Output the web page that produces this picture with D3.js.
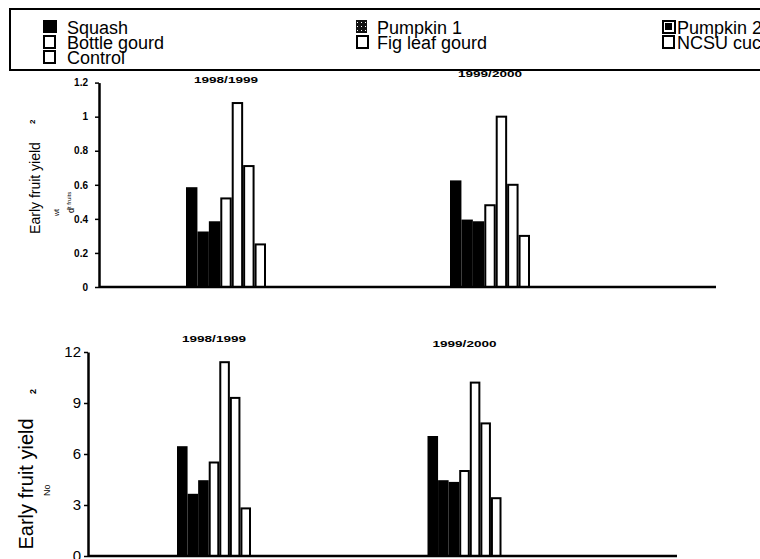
<!DOCTYPE html>
<html>
<head>
<meta charset="utf-8">
<script src="https://cdn.jsdelivr.net/npm/d3@7"></script>
<style>
  body { margin: 0; background: #fff; }
  svg { display: block; font-family: "Liberation Sans", Arial, sans-serif; }
</style>
</head>
<body>
<div class="chart"></div>
<script>
// data
const seasons = ['1998/1999', '1999/2000'];
const rootstocks = ['Squash', 'Pumpkin 1', 'Pumpkin 2', 'Bottle gourd', 'Fig leaf gourd', 'NCSU cucumber', 'Control'];
const darkRootstocks = ['Squash', 'Pumpkin 1', 'Pumpkin 2'];
const weightYield = [
    [0.58, 0.32, 0.38, 0.52, 1.08, 0.71, 0.25],
    [0.62, 0.39, 0.38, 0.48, 1.0, 0.60, 0.30]
];
const numberYield = [
    [6.4, 3.6, 4.4, 5.5, 11.4, 9.3, 2.8],
    [7.0, 4.4, 4.3, 5.0, 10.2, 7.8, 3.4]
];
const weightTicks = [0, 0.2, 0.4, 0.6, 0.8, 1, 1.2];
const numberTicks = [0, 3, 6, 9, 12];

const width = 760,
    height = 559;

const svg = d3.select('.chart')
    .append('svg')
    .attr('width', width)
    .attr('height', height);

// hatch for the Pumpkin 1 swatch
const defs = svg.append('defs');
const pat = defs.append('pattern')
    .attr('id', 'hatch')
    .attr('width', 4)
    .attr('height', 4)
    .attr('patternUnits', 'userSpaceOnUse');
pat.append('rect').attr('width', 4).attr('height', 4).attr('fill', '#111');
pat.append('rect').attr('x', 1).attr('y', 2).attr('width', 1).attr('height', 1).attr('fill', '#fff');

// ---- legend
const legend = svg.append('g');
legend.append('rect')
    .attr('x', 10)
    .attr('y', 9)
    .attr('width', 780)
    .attr('height', 61)
    .attr('fill', 'none')
    .attr('stroke', '#000')
    .attr('stroke-width', 2);

const colSwatch = [43, 356, 662],
    colText = [67, 377, 677],
    rowBase = [34, 49, 64];

rootstocks.forEach((name, i) => {
    const col = i % 3,
        row = Math.floor(i / 3);
    const g = legend.append('g');
    const sx = colSwatch[col],
        sy = rowBase[row] - 14;
    if (name === 'Pumpkin 1') {
        g.append('rect').attr('x', sx).attr('y', sy).attr('width', 11).attr('height', 13)
            .attr('fill', 'url(#hatch)');
    } else if (name === 'Pumpkin 2') {
        g.append('rect').attr('x', sx + 1).attr('y', sy + 1).attr('width', 12).attr('height', 12)
            .attr('fill', '#fff').attr('stroke', '#000').attr('stroke-width', 2);
        g.append('rect').attr('x', sx + 3).attr('y', sy + 3).attr('width', 7).attr('height', 7)
            .attr('fill', '#000');
    } else if (darkRootstocks.includes(name)) {
        g.append('rect').attr('x', sx).attr('y', sy).attr('width', 14).attr('height', 13)
            .attr('fill', '#000');
    } else {
        g.append('rect').attr('x', sx + 1).attr('y', sy + 1).attr('width', 11).attr('height', 12)
            .attr('fill', '#fff').attr('stroke', '#000').attr('stroke-width', 2);
    }
    g.append('text')
        .attr('x', colText[col])
        .attr('y', rowBase[row])
        .attr('font-size', 18)
        .text(name);
});

// ---- panels
function drawPanel(cfg, values, ticks) {
    const y = d3.scaleLinear()
        .domain([0, ticks[ticks.length - 1]])
        .range(cfg.yRange);

    const xGroup = d3.scalePoint()
        .domain(seasons)
        .range(cfg.centers);

    const xBar = d3.scaleBand()
        .domain(rootstocks)
        .range([-cfg.groupWidth / 2, cfg.groupWidth / 2]);

    const g = svg.append('g');

    // season titles
    g.selectAll('.season')
        .data(seasons)
        .enter()
        .append('text')
        .attr('class', 'season')
        .attr('x', d => xGroup(d))
        .attr('y', (d, i) => cfg.titleY[i])
        .attr('text-anchor', 'middle')
        .attr('font-size', 9)
        .attr('font-weight', 'bold')
        .attr('textLength', 64)
        .attr('lengthAdjust', 'spacingAndGlyphs')
        .text(d => d);

    // bars
    seasons.forEach((s, si) => {
        g.append('g')
            .attr('transform', `translate(${xGroup(s)},0)`)
            .selectAll('rect')
            .data(values[si])
            .enter()
            .append('rect')
            .attr('x', (d, i) => xBar(rootstocks[i]) + 1)
            .attr('y', d => y(d))
            .attr('width', xBar.bandwidth() - 2)
            .attr('height', d => y(0) - y(d))
            .attr('fill', (d, i) => darkRootstocks.includes(rootstocks[i]) ? '#000' : '#fff')
            .attr('stroke', '#000')
            .attr('stroke-width', 2);
    });

    // x baseline
    g.append('line')
        .attr('x1', cfg.axisX)
        .attr('x2', cfg.axisEnd)
        .attr('y1', y(0))
        .attr('y2', y(0))
        .attr('stroke', '#000')
        .attr('stroke-width', 2.5);

    // y axis
    const yAxis = d3.axisLeft(y)
        .tickValues(ticks)
        .tickFormat(d => String(d))
        .tickSize(4)
        .tickSizeOuter(0)
        .tickPadding(cfg.tickPadding);

    const ax = g.append('g')
        .attr('transform', `translate(${cfg.axisX},0)`)
        .call(yAxis);
    ax.select('.domain').attr('stroke-width', 2.5);
    ax.selectAll('.tick line').attr('stroke-width', 1.5);
    ax.selectAll('.tick text')
        .attr('fill', '#000')
        .attr('font-family', '"Liberation Sans", Arial, sans-serif')
        .attr('font-size', cfg.tickFont)
        .attr('font-weight', cfg.tickWeight);

    return g;
}

const topPanel = drawPanel({
    yRange: [287, 82.6],
    axisX: 99,
    axisEnd: 716,
    centers: [226, 490],
    groupWidth: 80,
    titleY: [83, 77],
    tickFont: 10,
    tickWeight: 'bold',
    tickPadding: 7
}, weightYield, weightTicks);

const bottomPanel = drawPanel({
    yRange: [556, 352],
    axisX: 88,
    axisEnd: 677,
    centers: [214, 464.5],
    groupWidth: 74,
    titleY: [342, 347],
    tickFont: 15,
    tickWeight: 'normal',
    tickPadding: 3
}, numberYield, numberTicks);

// axis titles
topPanel.append('text')
    .attr('transform', 'translate(40,188) rotate(-90)')
    .attr('text-anchor', 'middle')
    .attr('font-size', 14)
    .text('Early fruit yield');
topPanel.append('text')
    .attr('transform', 'translate(35,124) rotate(-90)')
    .attr('font-size', 8)
    .attr('font-weight', 'bold')
    .text('2');
topPanel.append('text')
    .attr('transform', 'translate(59,216) rotate(-90)')
    .attr('font-size', 7)
    .text('wt');
const fr = topPanel.append('text')
    .attr('transform', 'translate(74,213) rotate(-90)')
    .attr('font-size', 9)
    .text('d');
fr.append('tspan').attr('font-size', 6).attr('dy', -3).text('t fruits');

bottomPanel.append('text')
    .attr('transform', 'translate(33,484) rotate(-90)')
    .attr('text-anchor', 'middle')
    .attr('font-size', 20)
    .text('Early fruit yield');
bottomPanel.append('text')
    .attr('transform', 'translate(36,394) rotate(-90)')
    .attr('font-size', 9)
    .attr('font-weight', 'bold')
    .text('2');
bottomPanel.append('text')
    .attr('transform', 'translate(50,496) rotate(-90)')
    .attr('font-size', 9)
    .text('No');
</script>
</body>
</html>
